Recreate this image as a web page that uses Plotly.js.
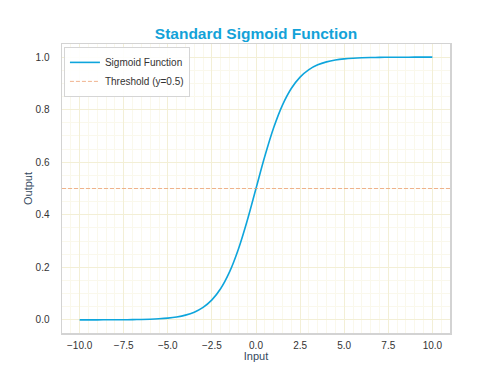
<!DOCTYPE html>
<html>
<head>
<meta charset="utf-8">
<script src="https://cdn.plot.ly/plotly-3.0.1.min.js"></script>
<style>html,body{margin:0;padding:0;background:#fff}#chart{width:500px;height:375px}</style>
</head>
<body>
<div id="chart"></div>
<script>
const inputX = [-10,-9.5,-9,-8.5,-8,-7.5,-7,-6.5,-6,-5.5,-5,-4.5,-4,-3.5,-3,-2.5,-2,-1.5,-1,-0.5,0,0.5,1,1.5,2,2.5,3,3.5,4,4.5,5,5.5,6,6.5,7,7.5,8,8.5,9,9.5,10];
const outputY = [0.0000,0.0001,0.0001,0.0002,0.0003,0.0006,0.0009,0.0015,0.0025,0.0041,0.0067,0.0110,0.0180,0.0293,0.0474,0.0759,0.1192,0.1824,0.2689,0.3775,0.5000,0.6225,0.7311,0.8176,0.8808,0.9241,0.9526,0.9707,0.9820,0.9890,0.9933,0.9959,0.9975,0.9985,0.9991,0.9994,0.9997,0.9998,0.9999,0.9999,1.0000];
const thresholdValue = 0.5;
const xTicks = [-10,-7.5,-5,-2.5,0,2.5,5,7.5,10];
const yTicks = [0,0.2,0.4,0.6,0.8,1.0];

const xMin = Math.min(...inputX), xMax = Math.max(...inputX);
const pad = (xMax - xMin) * 0.05;
const xRange = [xMin - pad, xMax + pad];

const traces = [
  {x: inputX, y: outputY, type: 'scatter', mode: 'lines', name: 'Sigmoid Function',
   line: {color: '#0ea5dc', width: 1.6, shape: 'spline'}},
  {x: xRange, y: [thresholdValue, thresholdValue], type: 'scatter', mode: 'lines', name: 'Threshold (y=0.5)',
   line: {color: 'rgba(236,160,115,0.8)', width: 1, dash: '4px,2px'}}
];

const axisCommon = {
  showline: true, mirror: true, linecolor: '#d3d3d3', linewidth: 1.5,
  gridcolor: '#f3efd6', gridwidth: 1, zeroline: false, ticks: '',
  tickfont: {family: 'Liberation Sans, Arial, sans-serif', size: 10, color: '#333'},
  tickformat: '.1f'
};

const layout = {
  width: 500, height: 375,
  paper_bgcolor: '#fff', plot_bgcolor: '#fff',
  margin: {l: 62, r: 50, t: 44, b: 42},
  title: {text: '<b>Standard Sigmoid Function</b>', xref: 'paper', x: 0.5, xanchor: 'center', y: 0.91, yanchor: 'middle',
          font: {family: 'Liberation Sans, Arial, sans-serif', size: 15.5, color: '#13a2d8'}},
  xaxis: Object.assign({}, axisCommon, {
    range: xRange, tickvals: xTicks, ticklabelstandoff: 2,
    minor: {dtick: 0.5, showgrid: true, gridcolor: '#faf8ec', gridwidth: 1, ticks: ''},
    title: {text: 'Input', standoff: 3, font: {family: 'Liberation Sans, Arial, sans-serif', size: 11, color: '#34495e'}}
  }),
  yaxis: Object.assign({}, axisCommon, {
    range: [-0.05, 1.05], tickvals: yTicks, ticklabelstandoff: 9,
    minor: {dtick: 0.05, showgrid: true, gridcolor: '#faf8ec', gridwidth: 1, ticks: ''},
    title: {text: 'Output', standoff: 0, font: {family: 'Liberation Sans, Arial, sans-serif', size: 11, color: '#34495e'}}
  }),
  showlegend: true,
  legend: {x: 0.005, y: 0.99, xanchor: 'left', yanchor: 'top',
           bgcolor: 'rgba(255,255,255,0.9)', bordercolor: '#d5d5d5', borderwidth: 1,
           font: {family: 'Liberation Sans, Arial, sans-serif', size: 10, color: '#333'},
           tracegroupgap: 0, itemwidth: 30}
};

Plotly.newPlot('chart', traces, layout, {displayModeBar: false, staticPlot: true});
</script>
</body>
</html>
